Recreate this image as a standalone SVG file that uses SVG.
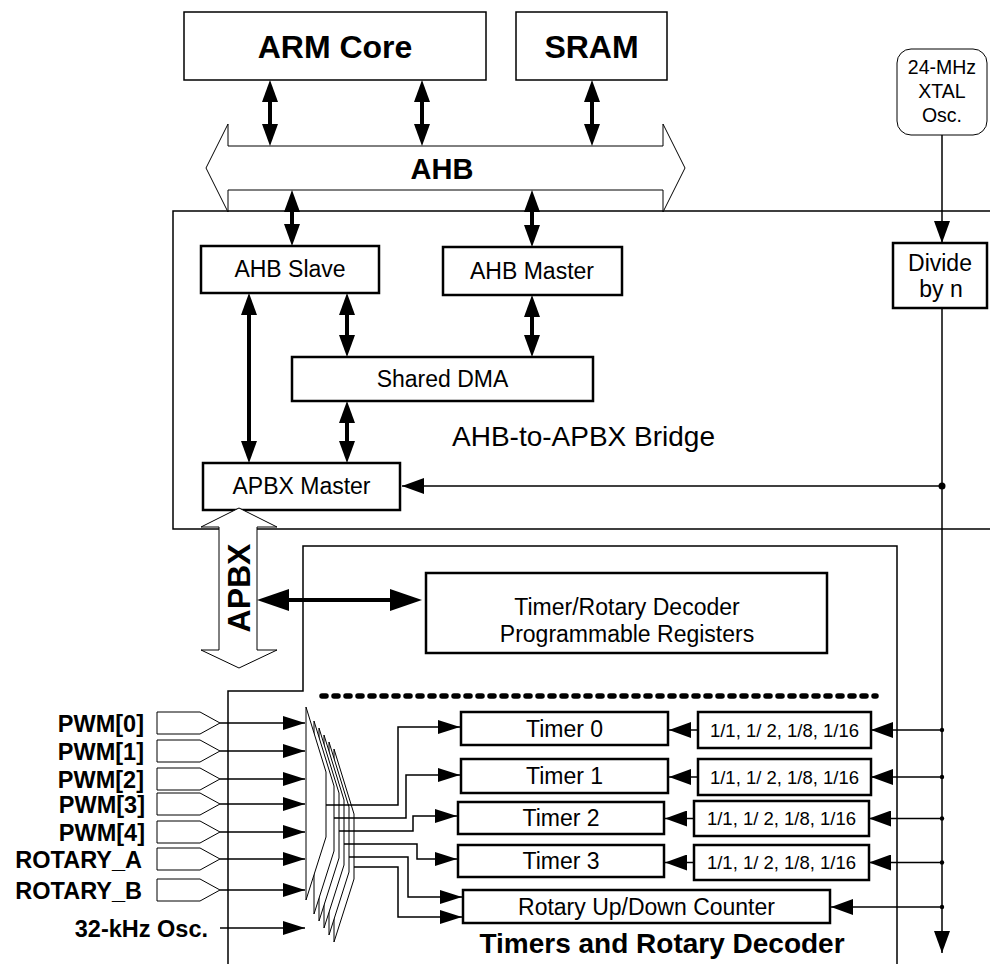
<svg xmlns="http://www.w3.org/2000/svg" width="990" height="964" viewBox="0 0 990 964">
<defs>
<style>
text{font-family:'Liberation Sans',Arial,Helvetica,sans-serif;fill:#000}
.b{font-weight:bold}
.t23{font-size:23px}
.box{fill:#fff;stroke:#000;stroke-width:2.5}
.box1{fill:#fff;stroke:#000;stroke-width:1.5}
.ln{fill:none;stroke:#000;stroke-width:1.5}
.thick{fill:none;stroke:#000;stroke-width:4}
.mux{fill:#fff;stroke:#000;stroke-width:1}
.pad{fill:#fff;stroke:#000;stroke-width:1}
</style>
<marker id="th" viewBox="-2 -8 22 16" refX="0" refY="0" markerWidth="22" markerHeight="16" markerUnits="userSpaceOnUse" orient="auto-start-reverse"><path d="M-2,-8 L20,0 L-2,8 z"/></marker>
<marker id="big" viewBox="-2 -11 32 22" refX="0" refY="0" markerWidth="32" markerHeight="22" markerUnits="userSpaceOnUse" orient="auto-start-reverse"><path d="M-2,-11 L30,0 L-2,11 z"/></marker>
<marker id="ar" viewBox="-22 -8 22 16" refX="0" refY="0" markerWidth="22" markerHeight="16" markerUnits="userSpaceOnUse" orient="auto"><path d="M-22,-8 L0,0 L-22,8 z"/></marker>
<marker id="ai" viewBox="-22 -7 22 14" refX="0" refY="0" markerWidth="22" markerHeight="14" markerUnits="userSpaceOnUse" orient="auto"><path d="M-22,-7 L0,0 L-22,7 z"/></marker>
</defs>
<rect width="990" height="964" fill="#fff"/>

<g id="bridge">
<path class="ln" d="M990,211 H173 V529 H990"/>
<text x="452" y="446" font-size="28">AHB-to-APBX Bridge</text>
</g>
<g id="timers-block">
<path class="ln" d="M228,964 V691 H303 V546 H897 V964"/>
<line x1="322" y1="696" x2="876" y2="696" stroke="#000" stroke-width="5.5" stroke-dasharray="4 8" stroke-linecap="round"/>
<text class="b" x="662" y="953" font-size="28" text-anchor="middle">Timers and Rotary Decoder</text>
</g>

<g id="arm-core"><rect class="box1" x="184" y="12" width="302" height="68"/><text class="b" x="335" y="58" font-size="32" text-anchor="middle">ARM Core</text></g>
<g id="sram"><rect class="box1" x="516" y="12" width="151" height="68"/><text class="b" x="591.5" y="58" font-size="32" text-anchor="middle">SRAM</text></g>
<g id="ahb"><polygon class="pad" points="206,168 228,124 228,146 663,146 663,124 685,168 663,212 663,190 228,190 228,212"/><text class="b" x="442" y="179" font-size="29" text-anchor="middle">AHB</text></g>
<g id="xtal"><rect class="pad" x="897" y="49" width="90" height="86" rx="14"/><text x="942" y="74" font-size="19.5" text-anchor="middle">24-MHz</text><text x="942" y="98" font-size="19.5" text-anchor="middle">XTAL</text><text x="942" y="122" font-size="19.5" text-anchor="middle">Osc.</text></g>
<g id="divide"><rect class="box" x="893" y="243" width="94" height="65"/><text class="t23" x="940" y="271" text-anchor="middle">Divide</text><text class="t23" x="941" y="297" text-anchor="middle">by n</text></g>
<g id="ahb-slave"><rect class="box" x="201" y="246" width="178" height="47"/><text class="t23" x="290" y="277" text-anchor="middle">AHB Slave</text></g>
<g id="ahb-master"><rect class="box" x="443" y="247" width="179" height="48"/><text class="t23" x="532" y="279" text-anchor="middle">AHB Master</text></g>
<g id="shared-dma"><rect class="box" x="292" y="357" width="301" height="44"/><text class="t23" x="442.5" y="387" text-anchor="middle">Shared DMA</text></g>
<g id="apbx-master"><rect class="box" x="203" y="463" width="197" height="47"/><text class="t23" x="301.5" y="494" text-anchor="middle">APBX Master</text></g>
<g id="apbx"><polygon class="pad" points="239,508 277,527 257,527 257,650 277,650 239,668 201,650 219,650 219,527 201,527"/><text class="b" font-size="32" text-anchor="middle" transform="translate(250,588) rotate(-90)">APBX</text></g>
<g id="registers"><rect class="box" x="426" y="573" width="401" height="80"/><text class="t23" x="627" y="615" text-anchor="middle">Timer/Rotary Decoder</text><text class="t23" x="627" y="642" text-anchor="middle">Programmable Registers</text></g>

<g id="timer0"><rect class="box" x="461" y="712" width="207" height="33"/><text class="t23" x="564.5" y="737" text-anchor="middle">Timer 0</text></g>
<g id="timer1"><rect class="box" x="461" y="759" width="207" height="34"/><text class="t23" x="564.5" y="784" text-anchor="middle">Timer 1</text></g>
<g id="timer2"><rect class="box" x="458" y="802" width="206" height="32"/><text class="t23" x="561" y="826" text-anchor="middle">Timer 2</text></g>
<g id="timer3"><rect class="box" x="458" y="845" width="206" height="32"/><text class="t23" x="561" y="869" text-anchor="middle">Timer 3</text></g>
<g id="rotary-counter"><rect class="box" x="463" y="890" width="367" height="33"/><text class="t23" x="646.5" y="915" text-anchor="middle">Rotary Up/Down Counter</text></g>
<g id="div0"><rect class="box" x="698" y="712" width="173" height="36"/><text x="784.5" y="737" font-size="18.5" text-anchor="middle">1/1, 1/ 2, 1/8, 1/16</text></g>
<g id="div1"><rect class="box" x="698" y="759" width="173" height="36"/><text x="784.5" y="784" font-size="18.5" text-anchor="middle">1/1, 1/ 2, 1/8, 1/16</text></g>
<g id="div2"><rect class="box" x="694" y="801" width="175" height="35"/><text x="781.5" y="825" font-size="18.5" text-anchor="middle">1/1, 1/ 2, 1/8, 1/16</text></g>
<g id="div3"><rect class="box" x="694" y="845" width="175" height="35"/><text x="781.5" y="869" font-size="18.5" text-anchor="middle">1/1, 1/ 2, 1/8, 1/16</text></g>

<g id="inputs">
<g class="pad"><polygon points="157,712 200,712 220,723 200,734 157,734"/><polygon points="157,740 200,740 220,751 200,762 157,762"/><polygon points="157,768 200,768 220,779 200,790 157,790"/><polygon points="157,793 200,793 220,804 200,815 157,815"/><polygon points="157,821 200,821 220,832 200,843 157,843"/><polygon points="157,848 200,848 220,859 200,870 157,870"/><polygon points="157,879 200,879 220,890 200,901 157,901"/></g>
<text class="b" x="144" y="731.5" font-size="23.5" text-anchor="end">PWM[0]</text>
<text class="b" x="144" y="759.5" font-size="23.5" text-anchor="end">PWM[1]</text>
<text class="b" x="144" y="787.5" font-size="23.5" text-anchor="end">PWM[2]</text>
<text class="b" x="145" y="812.5" font-size="23.5" text-anchor="end">PWM[3]</text>
<text class="b" x="145" y="840.5" font-size="23.5" text-anchor="end">PWM[4]</text>
<text class="b" x="142" y="867.5" font-size="23.5" text-anchor="end">ROTARY_A</text>
<text class="b" x="142" y="898.5" font-size="23.5" text-anchor="end">ROTARY_B</text>
<text class="b" x="208" y="936.5" font-size="23.5" text-anchor="end">32-kHz Osc.</text>
</g>

<g id="muxes">
<polygon class="mux" points="334,749 354,814 354,879 334,942"/>
<polygon class="mux" points="329,742 349,807 349,872 329,935"/>
<polygon class="mux" points="324,735 344,800 344,865 324,928"/>
<polygon class="mux" points="319,728 339,793 339,858 319,921"/>
<polygon class="mux" points="314,721 334,786 334,851 314,914"/>
<polygon class="mux" points="306,707 326,772 326,837 306,900"/>
</g>

<g id="connectors">
<line class="thick" x1="270" y1="100" x2="270" y2="126" marker-start="url(#th)" marker-end="url(#th)"/>
<line class="thick" x1="422" y1="100" x2="422" y2="126" marker-start="url(#th)" marker-end="url(#th)"/>
<line class="thick" x1="592" y1="100" x2="592" y2="126" marker-start="url(#th)" marker-end="url(#th)"/>
<line class="thick" x1="292" y1="210" x2="292" y2="226" marker-start="url(#th)" marker-end="url(#th)"/>
<line class="thick" x1="532" y1="210" x2="532" y2="227" marker-start="url(#th)" marker-end="url(#th)"/>
<line class="thick" x1="249" y1="313" x2="249" y2="443" marker-start="url(#th)" marker-end="url(#th)"/>
<line class="thick" x1="347" y1="313" x2="347" y2="337" marker-start="url(#th)" marker-end="url(#th)"/>
<line class="thick" x1="532" y1="315" x2="532" y2="337" marker-start="url(#th)" marker-end="url(#th)"/>
<line class="thick" x1="347" y1="421" x2="347" y2="443" marker-start="url(#th)" marker-end="url(#th)"/>
<line class="thick" x1="287" y1="600" x2="392" y2="600" marker-start="url(#big)" marker-end="url(#big)"/>
<line class="ln" x1="942" y1="135" x2="942" y2="243" marker-end="url(#ar)"/>
<line class="ln" x1="942" y1="308" x2="942" y2="953" marker-end="url(#ar)"/>
<line class="ln" x1="942" y1="486" x2="402" y2="486" marker-end="url(#ar)"/>
<circle cx="942" cy="486" r="3.5"/>
<line class="ln" x1="942" y1="730" x2="871" y2="730" marker-end="url(#ar)"/>
<line class="ln" x1="942" y1="777" x2="871" y2="777" marker-end="url(#ar)"/>
<line class="ln" x1="942" y1="818.5" x2="869" y2="818.5" marker-end="url(#ar)"/>
<line class="ln" x1="942" y1="862.5" x2="869" y2="862.5" marker-end="url(#ar)"/>
<line class="ln" x1="942" y1="907" x2="831" y2="907" marker-end="url(#ar)"/>
<circle cx="942" cy="730" r="2.2"/><circle cx="942" cy="777" r="2.2"/><circle cx="942" cy="818.5" r="2.2"/><circle cx="942" cy="862.5" r="2.2"/><circle cx="942" cy="907" r="2.2"/>
<line class="ln" x1="698" y1="730" x2="669" y2="730" marker-end="url(#ar)"/>
<line class="ln" x1="698" y1="777" x2="669" y2="777" marker-end="url(#ar)"/>
<line class="ln" x1="694" y1="818.5" x2="665" y2="818.5" marker-end="url(#ar)"/>
<line class="ln" x1="694" y1="862.5" x2="665" y2="862.5" marker-end="url(#ar)"/>
<line class="ln" x1="220" y1="723" x2="305" y2="723" marker-end="url(#ai)"/>
<line class="ln" x1="220" y1="751" x2="305" y2="751" marker-end="url(#ai)"/>
<line class="ln" x1="220" y1="779" x2="305" y2="779" marker-end="url(#ai)"/>
<line class="ln" x1="220" y1="804" x2="305" y2="804" marker-end="url(#ai)"/>
<line class="ln" x1="220" y1="832" x2="305" y2="832" marker-end="url(#ai)"/>
<line class="ln" x1="220" y1="859" x2="305" y2="859" marker-end="url(#ai)"/>
<line class="ln" x1="220" y1="890" x2="305" y2="890" marker-end="url(#ai)"/>
<line class="ln" x1="220" y1="928" x2="305" y2="928" marker-end="url(#ai)"/>
<path class="ln" d="M326,805 H398 V727 H460" marker-end="url(#ai)"/>
<path class="ln" d="M334,818 H406 V775 H460" marker-end="url(#ai)"/>
<path class="ln" d="M339,831 H413 V816 H457" marker-end="url(#ai)"/>
<path class="ln" d="M344,844 H417 V859 H457" marker-end="url(#ai)"/>
<path class="ln" d="M349,857 H408 V897 H462" marker-end="url(#ai)"/>
<path class="ln" d="M354,867 H398 V917 H462" marker-end="url(#ai)"/>
</g>
</svg>
